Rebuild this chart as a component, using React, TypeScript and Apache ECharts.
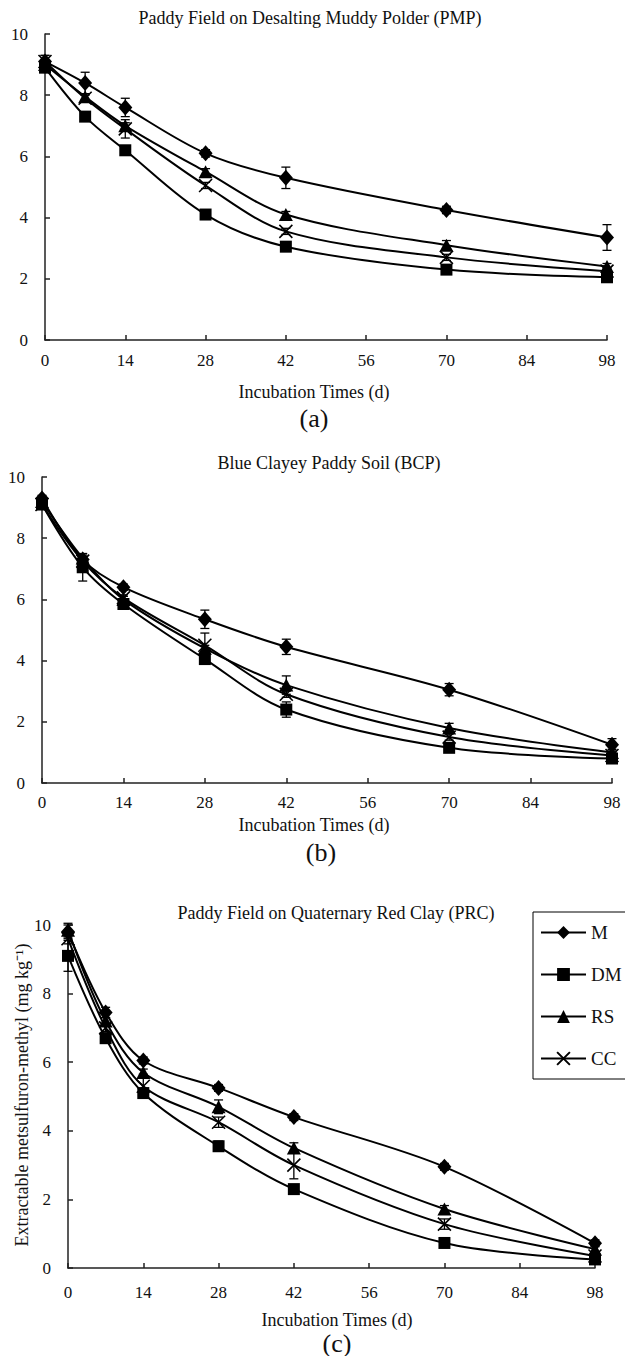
import React, { useEffect, useRef } from 'react';
import * as echarts from 'echarts';

// ---- data ----
const days = [0, 7, 14, 28, 42, 70, 98];
const xTicks = [0, 14, 28, 42, 56, 70, 84, 98];
const yTicks = [0, 2, 4, 6, 8, 10];
const seriesNames = ['M', 'DM', 'RS', 'CC'];

// (a) PMP
const pmpM = [9.1, 8.4, 7.6, 6.1, 5.3, 4.25, 3.35];
const pmpDM = [8.9, 7.3, 6.2, 4.1, 3.05, 2.3, 2.05];
const pmpRS = [9.0, 7.95, 7.0, 5.5, 4.1, 3.1, 2.4];
const pmpCC = [9.1, 7.9, 6.9, 5.05, 3.55, 2.7, 2.25];
const pmpErrM = [0.2, 0.35, 0.3, 0.12, 0.35, 0.12, 0.42];
const pmpErrDM = [0.1, 0.1, 0.1, 0.1, 0.1, 0.1, 0.1];
const pmpErrRS = [0.1, 0.1, 0.1, 0.1, 0.1, 0.15, 0.1];
const pmpErrCC = [0.2, 0.1, 0.3, 0.1, 0.1, 0.1, 0.1];

// (b) BCP
const bcpM = [9.3, 7.3, 6.4, 5.35, 4.45, 3.05, 1.25];
const bcpDM = [9.1, 7.05, 5.85, 4.05, 2.4, 1.15, 0.8];
const bcpRS = [9.2, 7.35, 6.0, 4.4, 3.2, 1.8, 1.0];
const bcpCC = [9.1, 7.25, 6.05, 4.5, 2.9, 1.5, 0.9];
const bcpErrM = [0.1, 0.1, 0.1, 0.3, 0.25, 0.2, 0.2];
const bcpErrDM = [0.1, 0.45, 0.1, 0.1, 0.25, 0.1, 0.1];
const bcpErrRS = [0.1, 0.1, 0.1, 0.1, 0.3, 0.15, 0.1];
const bcpErrCC = [0.1, 0.1, 0.1, 0.4, 0.1, 0.1, 0.1];

// (c) PRC
const prcM = [9.8, 7.45, 6.05, 5.25, 4.4, 2.95, 0.72];
const prcDM = [9.1, 6.7, 5.1, 3.55, 2.3, 0.73, 0.25];
const prcRS = [9.85, 7.2, 5.7, 4.7, 3.5, 1.72, 0.55];
const prcCC = [9.6, 7.0, 5.3, 4.25, 3.0, 1.28, 0.35];
const prcErrM = [0.2, 0.15, 0.1, 0.1, 0.1, 0.1, 0.1];
const prcErrDM = [0.45, 0.15, 0.1, 0.15, 0.1, 0.1, 0.1];
const prcErrRS = [0.2, 0.1, 0.1, 0.2, 0.15, 0.1, 0.1];
const prcErrCC = [0.15, 0.1, 0.35, 0.15, 0.4, 0.15, 0.1];

const panelTitles = [
  'Paddy Field on Desalting Muddy Polder (PMP)',
  'Blue Clayey Paddy Soil (BCP)',
  'Paddy Field on Quaternary Red Clay (PRC)',
];
const panelLetters = ['(a)', '(b)', '(c)'];
const xAxisTitle = 'Incubation Times (d)';
const yAxisTitle = 'Extractable metsulfuron-methyl (mg kg\u207B\u00B9)';

const panels = [
  { vals: [pmpM, pmpDM, pmpRS, pmpCC], errs: [pmpErrM, pmpErrDM, pmpErrRS, pmpErrCC] },
  { vals: [bcpM, bcpDM, bcpRS, bcpCC], errs: [bcpErrM, bcpErrDM, bcpErrRS, bcpErrCC] },
  { vals: [prcM, prcDM, prcRS, prcCC], errs: [prcErrM, prcErrDM, prcErrRS, prcErrCC] },
];

// ---- layout & style ----
const FONT = 'Liberation Serif';
const grids = [
  { left: 45, top: 34, width: 562, height: 306 },
  { left: 42, top: 477, width: 570, height: 306 },
  { left: 68, top: 925, width: 527, height: 343 },
];
const xLabelMargins = [12, 11, 16];
const titlePos = [[310, 18], [329, 463], [336, 913]];
const xTitlePos = [[314, 392], [314, 825], [337, 1320]];
const letterPos = [[314, 418], [321, 852], [337, 1343]];

const symbols: any[] = ['diamond', 'rect', 'triangle', 'path://M0,0L10,10M10,0L0,10'];
const symbolSizes: any[] = [[14, 16], [12, 12], [14, 13], [13, 13]];

function textEl(text: string, x: number, y: number, size: number, extra: any = {}) {
  return {
    type: 'text',
    x,
    y,
    silent: true,
    ...extra,
    style: {
      text,
      fill: '#111',
      fontFamily: FONT,
      fontSize: size,
      align: 'center',
      verticalAlign: 'middle',
      textAlign: 'center',
      textVerticalAlign: 'middle',
    },
  };
}

export default function App() {
  const ref = useRef<HTMLDivElement>(null);
  useEffect(() => {
    const chart = echarts.init(ref.current!, null, { renderer: 'svg' });
    const axisLine = { show: true, lineStyle: { color: '#222', width: 1.5 } };
    const axisTick = { show: true, inside: true, length: 5, lineStyle: { color: '#222', width: 1.5 } };
    const labelStyle = { color: '#111', fontFamily: FONT, fontSize: 17 };

    const xAxis = grids.map((_, i) => ({
      type: 'value',
      gridIndex: i,
      min: xTicks[0],
      max: xTicks[xTicks.length - 1],
      interval: xTicks[1] - xTicks[0],
      axisLine,
      axisTick,
      splitLine: { show: false },
      axisLabel: { ...labelStyle, margin: xLabelMargins[i], showMaxLabel: true, showMinLabel: true },
    }));
    const yAxis = grids.map((_, i) => ({
      type: 'value',
      gridIndex: i,
      min: yTicks[0],
      max: yTicks[yTicks.length - 1],
      interval: yTicks[1] - yTicks[0],
      axisLine,
      axisTick,
      splitLine: { show: false },
      axisLabel: { ...labelStyle, margin: 17 },
    }));

    const series: any[] = [];
    panels.forEach((p, pi) => {
      const errData: any[] = [];
      p.vals.forEach((arr, si) => {
        arr.forEach((v, k) => errData.push([days[k], v, p.errs[si][k]]));
      });
      series.push({
        type: 'custom',
        name: 'err' + pi,
        xAxisIndex: pi,
        yAxisIndex: pi,
        silent: true,
        z: 1,
        encode: { x: 0, y: 1 },
        data: errData,
        renderItem: (params: any, api: any) => {
          const x = api.value(0);
          const y = api.value(1);
          const e = api.value(2);
          const t = api.coord([x, y + e]);
          const b = api.coord([x, y - e]);
          const hw = 4.5;
          const st = { stroke: '#000', lineWidth: 1.3 };
          return {
            type: 'group',
            children: [
              { type: 'line', shape: { x1: t[0], y1: t[1], x2: b[0], y2: b[1] }, style: st },
              { type: 'line', shape: { x1: t[0] - hw, y1: t[1], x2: t[0] + hw, y2: t[1] }, style: st },
              { type: 'line', shape: { x1: b[0] - hw, y1: b[1], x2: b[0] + hw, y2: b[1] }, style: st },
            ],
          };
        },
      });
      p.vals.forEach((arr, si) => {
        const isX = si === 3;
        series.push({
          type: 'line',
          name: seriesNames[si],
          xAxisIndex: pi,
          yAxisIndex: pi,
          data: days.map((d, k) => [d, arr[k]]),
          smooth: 0.33,
          symbol: symbols[si],
          symbolSize: symbolSizes[si],
          showSymbol: true,
          z: 2,
          lineStyle: { color: '#000', width: 2 },
          itemStyle: isX
            ? { color: 'rgba(0,0,0,0)', borderColor: '#000', borderWidth: 1.6 }
            : { color: '#000', borderWidth: 0 },
        });
      });
    });

    const graphic: any[] = [];
    panelTitles.forEach((t, i) => graphic.push(textEl(t, titlePos[i][0], titlePos[i][1], 18)));
    xTitlePos.forEach((p) => graphic.push(textEl(xAxisTitle, p[0], p[1], 18)));
    panelLetters.forEach((t, i) => graphic.push(textEl(t, letterPos[i][0], letterPos[i][1], 26)));
    graphic.push(textEl(yAxisTitle, 22, 1095, 18, { rotation: Math.PI / 2 }));

    chart.setOption({
      animation: false,
      backgroundColor: '#fff',
      grid: grids,
      xAxis,
      yAxis,
      series,
      graphic,
      legend: {
        data: seriesNames,
        orient: 'vertical',
        left: 533,
        top: 912,
        padding: [11, 14, 11, 7],
        itemWidth: 45,
        itemHeight: 16,
        itemGap: 23,
        borderColor: '#000',
        borderWidth: 1,
        textStyle: { color: '#111', fontFamily: FONT, fontSize: 19, lineHeight: 16, padding: [0, 0, 0, 0] },
      },
    });
    return () => chart.dispose();
  }, []);
  return (
    <div
      ref={ref}
      style={{ position: 'absolute', left: 0, top: 0, width: 625, height: 1356, background: '#fff' }}
    />
  );
}
